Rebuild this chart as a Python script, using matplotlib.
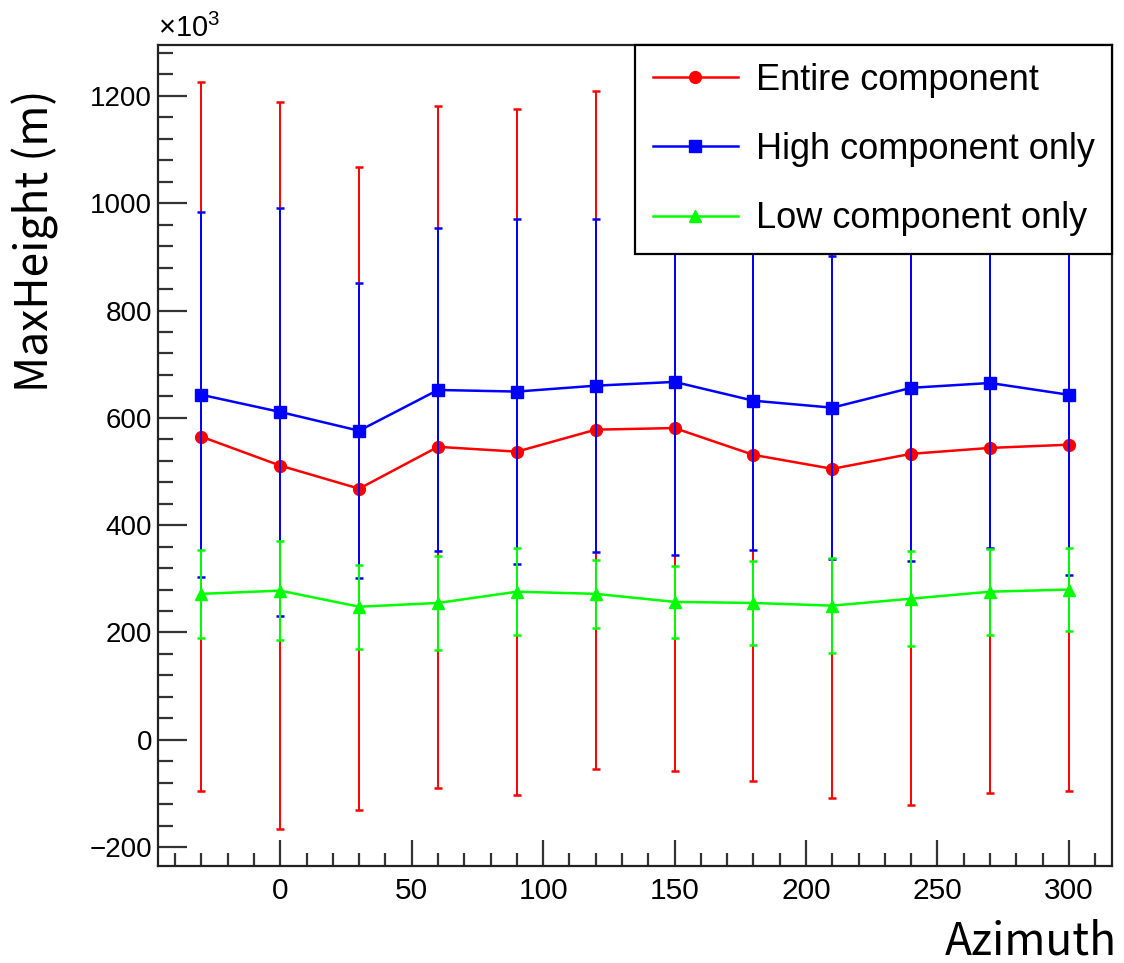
import matplotlib
matplotlib.use("Agg")
import matplotlib.pyplot as plt
from matplotlib.ticker import MultipleLocator

# MaxHeight (x10^3 m) versus azimuth, mean and spread per component
azimuth = [-30, 0, 30, 60, 90, 120, 150, 180, 210, 240, 270, 300]

entire_mean = [565, 511, 468, 546, 537, 578, 581, 531, 505, 533, 544, 550]
entire_err = [661, 677, 599, 635, 639, 632, 639, 607, 613, 654, 643, 645]

high_mean = [643, 611, 576, 652, 649, 660, 667, 632, 619, 656, 665, 643]
high_err = [340, 381, 275, 301, 321, 310, 322, 278, 282, 322, 307, 336]

low_mean = [272, 278, 248, 255, 276, 272, 257, 255, 250, 263, 276, 280]
low_err = [82, 92, 78, 87, 81, 64, 67, 79, 88, 89, 80, 78]

labels = ["Entire component", "High component only", "Low component only"]
colors = ["#ff0000", "#0000ff", "#00ff00"]
markers = ["o", "s", "^"]

plt.rcParams["font.family"] = ["Liberation Sans", "DejaVu Sans"]
plt.rcParams["mathtext.fontset"] = "custom"
plt.rcParams["mathtext.rm"] = "Liberation Sans"

fig = plt.figure(figsize=(11.24, 9.63), dpi=100)
ax = fig.add_axes([0.1403, 0.1007, 0.8493, 0.8526])

series = [(entire_mean, entire_err), (high_mean, high_err), (low_mean, low_err)]
for (mean, err), lab, col, mk in zip(series, labels, colors, markers):
    ax.errorbar(azimuth, mean, yerr=err, fmt="none", ecolor=col,
                elinewidth=1.4, capsize=3, capthick=1.8)
    ax.plot(azimuth, mean, color=col, lw=1.8, marker=mk, ms=8.5,
            markeredgecolor=col, markerfacecolor=col, label=lab)

ax.set_xlim(-46.6, 316.5)
ax.set_ylim(-235.3, 1295)

ax.xaxis.set_major_locator(MultipleLocator(50))
ax.xaxis.set_minor_locator(MultipleLocator(10))
ax.yaxis.set_major_locator(MultipleLocator(200))
ax.yaxis.set_minor_locator(MultipleLocator(40))

ax.tick_params(axis="both", which="both", direction="in", color="#333333",
               width=1.6, top=False, right=False)
ax.tick_params(axis="y", which="major", length=21, labelsize=20, pad=4)
ax.tick_params(axis="y", which="minor", length=11)
ax.tick_params(axis="x", which="major", length=19, labelsize=21.5, pad=8)
ax.tick_params(axis="x", which="minor", length=9.5)
for sp in ax.spines.values():
    sp.set_linewidth(1.6)
    sp.set_color("#222222")

# ROOT-style exponent marker above the axis
ax.text(0.0, 1.002, r"$\times10^{3}$", transform=ax.transAxes,
        fontsize=21, ha="left", va="bottom")

leg = ax.legend(loc="upper left", bbox_to_anchor=(0.5, 0.7495, 0.5, 0.2505),
                mode="expand", borderaxespad=0, frameon=True, fancybox=False,
                edgecolor="black", framealpha=1,
                prop={"family": "Liberation Sans", "size": 26},
                handlelength=2.36, handletextpad=0.5, borderpad=0.49,
                labelspacing=0.95)
leg.get_frame().set_linewidth(1.6)

axis_font = ["Noto Sans CJK SC", "DejaVu Sans"]
fig.text(35 / 1124, 1 - 392 / 963, "MaxHeight (m)", rotation=90, ha="center",
         va="bottom", fontsize=32, fontweight="light", family=axis_font)
fig.text(1117 / 1124, 1 - 954 / 963, "Azimuth", ha="right", va="baseline",
         fontsize=32, fontweight="light", family=axis_font)

fig.savefig("out.png", dpi=100)
